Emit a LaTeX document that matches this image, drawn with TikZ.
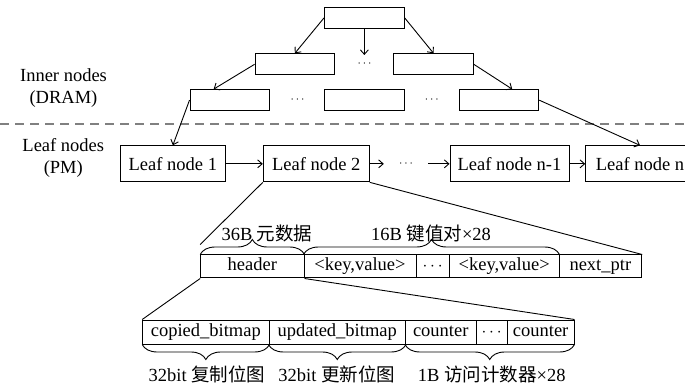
\documentclass[tikz,border=0pt]{standalone}
\usepackage{fontspec}
\setmainfont{Liberation Serif}
\newfontfamily\cjkfont{Noto Sans CJK SC}
\usetikzlibrary{arrows.meta,decorations.pathreplacing,calc}

\begin{document}
\begin{tikzpicture}[x=1pt,y=-1pt,
  font=\fontsize{18.5}{22}\selectfont,
  box/.style={draw,line width=1pt,inner sep=0pt,minimum height=21pt,minimum width=79.5pt},
  leafbox/.style={draw,line width=1pt,inner sep=0pt,minimum height=36pt},
  cell/.style={draw,line width=1pt,inner sep=0pt,text height=12.5pt,text depth=4pt},
  toprow/.style={cell,minimum height=23pt},
  botrow/.style={cell,minimum height=24pt},
  link/.style={line width=0.9pt,-{Straight Barb[length=4.5pt,width=8pt]}},
  plain/.style={line width=0.9pt},
  curly/.style={decorate,decoration={brace,amplitude=15pt},line width=0.9pt},
  dotsmark/.style={inner sep=0pt,font=\fontsize{13}{15}\selectfont},
  caption/.style={inner sep=0pt},
]
\useasboundingbox (0,0) rectangle (685,387);

% layer labels and the DRAM / PM separator
\node[caption,align=center] (innerlab) at (63.5,88.3) {Inner nodes\\(DRAM)};
\node[caption,align=center] (leaflab) at (63.3,157.8) {Leaf nodes\\(PM)};
\coordinate (sepL) at (0,124);
\coordinate (sepR) at (685,124);
\draw[black!50,line width=1.3pt,dash pattern=on 9pt off 6pt] (sepL) -- (sepR);

% inner node tree
\node[box] (top) at (364.35,17.8) {};
\node[box] (l2a) at (294.85,64.3) {};
\node[box] (l2b) at (433.55,64.3) {};
\node[dotsmark] (m2) at (364.5,64) {$\cdots$};
\node[box] (l3a) at (229.75,100.15) {};
\node[box] (l3b) at (364.35,100.15) {};
\node[box] (l3c) at (498.95,100.15) {};
\node[dotsmark] (m3a) at (297.5,100) {$\cdots$};
\node[dotsmark] (m3b) at (431.8,100) {$\cdots$};
\coordinate (midtip) at (364.35,55);

% leaf list
\node[leafbox,minimum width=104.3pt] (leaf1) at (172.85,163.85) {Leaf node 1};
\node[leafbox,minimum width=106pt] (leaf2) at (316.3,163.85) {Leaf node 2};
\node[dotsmark,minimum width=44pt] (ldots) at (406,163.85) {$\cdots$};
\node[leafbox,minimum width=119pt] (leafn1) at (509.5,163.85) {Leaf node n-1};
\node[leafbox,minimum width=108.6pt] (leafn) at (640,163.85) {Leaf node n};

% tree pointers
\draw[link] (top.west) -- (l2a.north);
\draw[link] (top.south) -- (midtip);
\draw[link] (top.east) -- (l2b.north);
\draw[link] (l2a.west) -- ($(l3a.north west)!0.3!(l3a.north east)$);
\draw[link] (l2b.east) -- ($(l3c.north west)!0.665!(l3c.north east)$);
\draw[link] (l3a.west) -- (leaf1.north);
\draw[link] (l3c.east) -- (leafn.north);

% sibling pointers
\draw[link] (leaf1) -- (leaf2);
\draw[link] (leaf2) -- (ldots);
\draw[link] (ldots) -- (leafn1);
\draw[link] (leafn1) -- (leafn);

% leaf node layout
\node[toprow,minimum width=103.3pt] (hdr) at (252.35,266.5) {header};
\node[toprow,minimum width=112pt] (kv1) at (360,266.5) {<key,value>};
\node[toprow,minimum width=33.3pt] (kvdots) at (432.65,266.5) {$\cdots$};
\node[toprow,minimum width=109.7pt] (kv2) at (504.15,266.5) {<key,value>};
\node[toprow,minimum width=82.7pt] (nptr) at (600.35,266.5) {next\_ptr};

\coordinate (hdrtop) at ($(hdr.north west)+(0,-10)$);
\draw[plain] (leaf2.south west) -- (hdrtop);
\draw[plain] (leaf2.south east) -- (nptr.north east);

\draw[curly] (hdr.north west) -- (hdr.north east);
\draw[curly] (kv1.north west) -- (kv2.north east);
\node[caption] (metalab) at (267,233) {36B {\cjkfont 元数据}};
\node[caption] (kvlab) at (431,233) {16B {\cjkfont 键值对}×28};

% header layout
\node[botrow,minimum width=126.3pt] (cb) at (205.85,332) {copied\_bitmap};
\node[botrow,minimum width=136.5pt] (ub) at (337.25,332) {updated\_bitmap};
\node[botrow,minimum width=70.5pt] (c1) at (440.75,332) {counter};
\node[botrow,minimum width=31.3pt] (cdots) at (491.65,332) {$\cdots$};
\node[botrow,minimum width=66.7pt] (c2) at (540.65,332) {counter};

\draw[plain] (hdr.south west) -- (cb.north west);
\draw[plain] (hdr.south east) -- (c2.north east);

\draw[curly] (cb.south east) -- (cb.south west);
\draw[curly] (ub.south east) -- (ub.south west);
\draw[curly] (c2.south east) -- (c1.south west);
\node[caption] (cblab) at (207,374) {32bit {\cjkfont 复制位图}};
\node[caption] (ublab) at (336.7,374) {32bit {\cjkfont 更新位图}};
\node[caption] (ctlab) at (491.7,374) {1B {\cjkfont 访问计数器}×28};
\end{tikzpicture}
\end{document}
